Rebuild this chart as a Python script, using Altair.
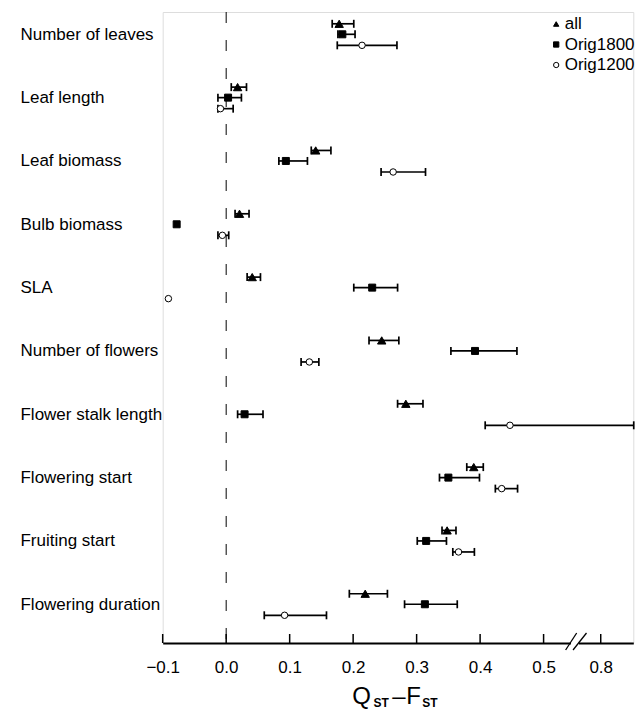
import json
import altair as alt
import pandas as pd

# ---------------- data ----------------
traits = ["Number of leaves", "Leaf length", "Leaf biomass", "Bulb biomass", "SLA",
          "Number of flowers", "Flower stalk length", "Flowering start",
          "Fruiting start", "Flowering duration"]
groups = ["all", "Orig1800", "Orig1200"]

# QST - FST estimates and confidence limits (real units)
all_est = [0.178, 0.018, 0.141, 0.021, 0.041, 0.245, 0.283, 0.390, 0.348, 0.219]
all_lo = [0.167, 0.008, 0.134, 0.014, 0.033, 0.225, 0.270, 0.379, 0.340, 0.194]
all_hi = [0.201, 0.032, 0.165, 0.036, 0.054, 0.272, 0.310, 0.405, 0.362, 0.254]

o1800_est = [0.183, 0.003, 0.094, -0.078, 0.230, 0.392, 0.029, 0.350, 0.315, 0.313]
o1800_lo = [0.176, -0.013, 0.083, None, 0.201, 0.354, 0.018, 0.336, 0.301, 0.281]
o1800_hi = [0.203, 0.024, 0.128, None, 0.270, 0.458, 0.058, 0.399, 0.347, 0.364]

o1200_est = [0.214, -0.009, 0.263, -0.006, -0.091, 0.131, 0.447, 0.434, 0.366, 0.092]
o1200_lo = [0.175, -0.013, 0.244, -0.013, None, 0.118, 0.408, 0.424, 0.357, 0.060]
o1200_hi = [0.269, 0.011, 0.314, 0.004, None, 0.146, 0.852, 0.459, 0.391, 0.158]

x_ticks = [-0.1, 0.0, 0.1, 0.2, 0.3, 0.4, 0.5, 0.8]

# broken axis: values above BREAK_AT are shifted left by BREAK_SHIFT
BREAK_AT = 0.55
BREAK_SHIFT = 0.21

# ---------------- layout / style ----------------
W = 470.6
H = 631
FONT = "Liberation Sans"
FS = 17
shapes = {"all": "triangle-up", "Orig1800": "square", "Orig1200": "circle"}
fills = {"all": "black", "Orig1800": "black", "Orig1200": "white"}
sizes = {"all": 70, "Orig1800": 49, "Orig1200": 42}


def disp(v):
    if v is None:
        return None
    return v if v < BREAK_AT else v - BREAK_SHIFT


group_offset = {"all": -0.166, "Orig1800": 0.0, "Orig1200": 0.174}
series = {
    "all": (all_est, all_lo, all_hi),
    "Orig1800": (o1800_est, o1800_lo, o1800_hi),
    "Orig1200": (o1200_est, o1200_lo, o1200_hi),
}
rows = []
for g in groups:
    est, lo, hi = series[g]
    for i, t in enumerate(traits):
        rows.append({
            "trait": t, "group": g,
            "ypos": i + group_offset[g],
            "est": disp(est[i]), "lo": disp(lo[i]), "hi": disp(hi[i]),
        })
df = pd.DataFrame(rows)
ticks_df = pd.DataFrame({"pos": [disp(v) for v in x_ticks]})
one = pd.DataFrame({"k": [0]})

xs = alt.Scale(domain=[-0.1, 0.6413], nice=False, zero=False)
ys = alt.Scale(domain=[-0.3521, 9.6116], nice=False, zero=False, reverse=True)

label_expr_x = (f"datum.value > {BREAK_AT} ? format(datum.value + {BREAK_SHIFT}, '.1f')"
                " : format(datum.value, '.1f')")
xaxis = alt.Axis(values=[disp(v) for v in x_ticks], labelExpr=label_expr_x, title=None,
                 ticks=False, tickSize=0, grid=False, domainColor="black", domainWidth=2,
                 labelFontSize=FS, labelPadding=17, labelFlush=False, labelOverlap=False,
                 labelColor="black", labelFont=FONT)
label_expr_y = "[" + ",".join(json.dumps(t) for t in traits) + "][datum.value]"
yaxis = alt.Axis(values=list(range(len(traits))), labelExpr=label_expr_y, title=None,
                 ticks=False, tickSize=0, domain=False, grid=False, labelAlign="left",
                 labelBaseline="middle", labelPadding=142.7, labelFontSize=FS,
                 labelFlush=False, labelOverlap=False, labelColor="black", labelFont=FONT)

X = lambda f: alt.X(f, scale=xs, axis=xaxis)
Y = alt.Y("ypos:Q", scale=ys, axis=yaxis)

zero_line = alt.Chart(one).mark_rule(strokeDash=[11, 17], strokeWidth=1, color="black").encode(
    x=alt.X(datum=0.0, scale=xs, axis=xaxis))

tick_rules = alt.Chart(ticks_df).mark_rule(strokeWidth=1.5, color="black").encode(
    x=X("pos:Q"), y=alt.value(H - 9), y2=alt.value(H))

gap = alt.Chart(one).mark_rule(strokeWidth=5, color="white").encode(
    x=alt.datum(BREAK_AT - 0.0069), x2=alt.datum(BREAK_AT + 0.0057), y=alt.value(H))
slash1 = alt.Chart(one).mark_rule(strokeWidth=1.3, color="black").encode(
    x=alt.datum(BREAK_AT - 0.0153), x2=alt.datum(BREAK_AT + 0.0021),
    y=alt.value(H + 7), y2=alt.value(H - 10))
slash2 = alt.Chart(one).mark_rule(strokeWidth=1.3, color="black").encode(
    x=alt.datum(BREAK_AT - 0.0036), x2=alt.datum(BREAK_AT + 0.0176),
    y=alt.value(H + 7), y2=alt.value(H - 10))

err = alt.Chart(df).mark_rule(strokeWidth=1.7, color="black").encode(
    x=X("lo:Q"), x2="hi:Q", y=Y)

caps = alt.Chart(df).transform_fold(["lo", "hi"], as_=["end", "val"]).mark_tick(
    orient="vertical", size=8, thickness=1.7, color="black", opacity=1).encode(
    x=X("val:Q"), y=Y)

point_layers = [
    alt.Chart(df).transform_filter(alt.datum.group == g).mark_point(
        shape=shapes[g], size=sizes[g], fill=fills[g], stroke="black", strokeWidth=1,
        opacity=1, fillOpacity=1).encode(x=X("est:Q"), y=Y)
    for g in groups
]


def mk_legend():
    return alt.Legend(title=None, orient="none", legendX=385, legendY=3.5,
                      labelFontSize=FS, labelFont=FONT, labelColor="black",
                      symbolSize=28, symbolStrokeWidth=1, labelOffset=0,
                      rowPadding=2.5, padding=0)


# legend-only layer (no data drawn)
legend_layer = alt.Chart(df).transform_filter("false").mark_point(
    strokeWidth=1, opacity=1, fillOpacity=1).encode(
    x=X("est:Q"), y=Y,
    shape=alt.Shape("group:N", scale=alt.Scale(domain=groups, range=[shapes[g] for g in groups]),
                    legend=mk_legend()),
    fill=alt.Fill("group:N", scale=alt.Scale(domain=groups, range=[fills[g] for g in groups]),
                  legend=mk_legend()),
    stroke=alt.Stroke("group:N", scale=alt.Scale(domain=groups, range=["black", "black", "black"]),
                      legend=mk_legend()),
)


def txt(s, x, y, size, weight="normal"):
    return alt.Chart(one).mark_text(text=s, align="left", baseline="alphabetic", fontSize=size,
                                    font=FONT, fontWeight=weight, color="black").encode(
        x=alt.value(x), y=alt.value(y))


title_parts = [
    txt("Q", 189.5, 692, 24),
    txt("ST", 210.8, 695.5, 12, "bold"),
    txt("\u2013", 229.5, 692, 24),
    txt("F", 243.5, 692, 24),
    txt("ST", 259.5, 695.5, 12, "bold"),
]

chart = alt.layer(zero_line, tick_rules, gap, slash1, slash2, err, caps, *point_layers,
                  legend_layer, *title_parts).properties(
    width=W, height=H,
    autosize=alt.AutoSizeParams(type="none"),
    padding={"left": 154.7, "top": 4, "right": 1.6, "bottom": 70},
).configure_view(stroke=None).configure(font=FONT)

chart.save("out.html", embed_options={"renderer": "svg", "actions": False})
